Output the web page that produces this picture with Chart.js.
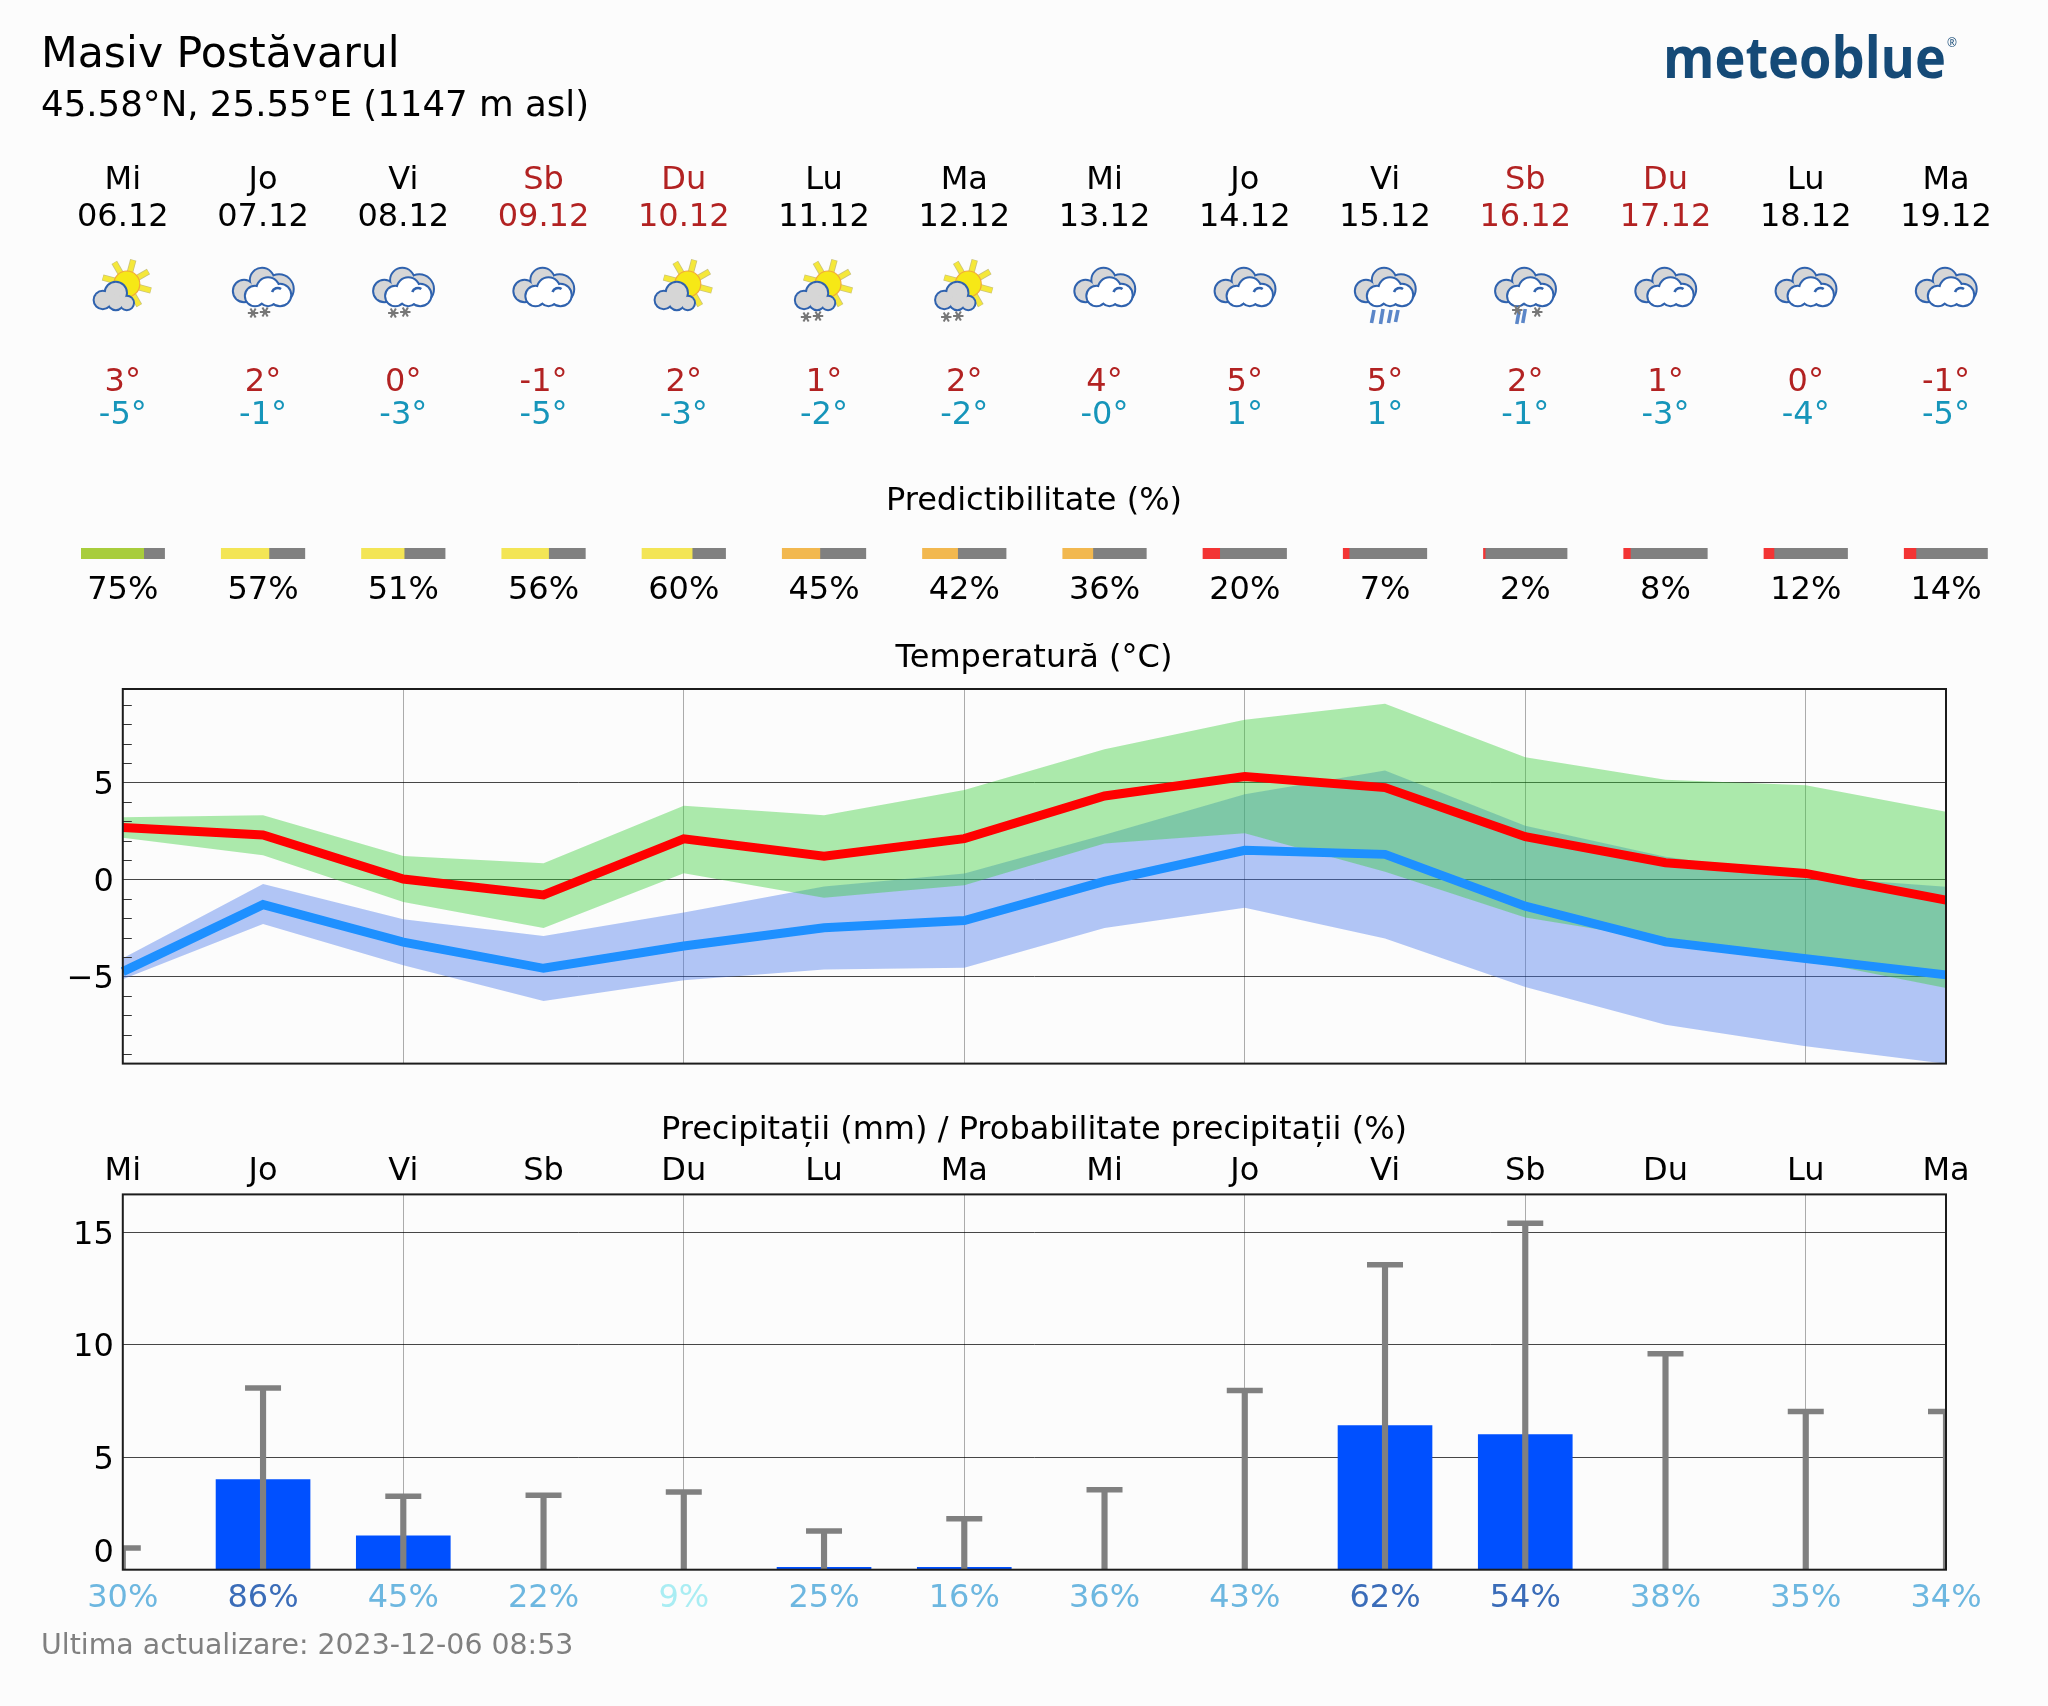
<!DOCTYPE html>
<html>
<head>
<meta charset="utf-8">
<title>Masiv Postăvarul</title>
<script src="https://cdn.jsdelivr.net/npm/chart.js@4"></script>
<style>
html, body { margin: 0; padding: 0; background: #fcfcfc; }
#page { position: relative; width: 2048px; height: 1706px; overflow: hidden; background: #fcfcfc; }
#page canvas { position: absolute; left: 0; }
#overlay { position: absolute; left: 0; top: 0; pointer-events: none; font-family: 'DejaVu Sans', sans-serif; }
</style>
</head>
<body>
<div id="page">
  <canvas id="predictChart" width="2048" height="30" style="top:540px"></canvas>
  <canvas id="tempChart" width="2048" height="420" style="top:660px"></canvas>
  <canvas id="rainChart" width="2048" height="470" style="top:1150px"></canvas>
  <svg id="overlay" width="2048" height="1706" xmlns="http://www.w3.org/2000/svg"></svg>
</div>
<script>
// date
const days = ['Mi', 'Jo', 'Vi', 'Sb', 'Du', 'Lu', 'Ma', 'Mi', 'Jo', 'Vi', 'Sb', 'Du', 'Lu', 'Ma'];
const dates = ['06.12', '07.12', '08.12', '09.12', '10.12', '11.12', '12.12', '13.12', '14.12', '15.12', '16.12', '17.12', '18.12', '19.12'];
const icons = ['sun', 'snow', 'snow', 'cloud', 'sun', 'sunsnow', 'sunsnow', 'cloud', 'cloud', 'rain', 'mix', 'cloud', 'cloud', 'cloud'];
const maxLabels = ['3°', '2°', '0°', '-1°', '2°', '1°', '2°', '4°', '5°', '5°', '2°', '1°', '0°', '-1°'];
const minLabels = ['-5°', '-1°', '-3°', '-5°', '-3°', '-2°', '-2°', '-0°', '1°', '1°', '-1°', '-3°', '-4°', '-5°'];
const predictability = [75, 57, 51, 56, 60, 45, 42, 36, 20, 7, 2, 8, 12, 14];

const tempMax = [2.68, 2.29, 0.02, -0.8, 2.09, 1.2, 2.1, 4.3, 5.3, 4.73, 2.2, 0.86, 0.31, -1.07];
const tempMaxHigh = [3.2, 3.3, 1.2, 0.83, 3.8, 3.3, 4.6, 6.7, 8.23, 9.05, 6.3, 5.13, 4.85, 3.48];
const tempMaxLow = [2.15, 1.24, -1.16, -2.5, 0.32, -0.95, -0.3, 1.85, 2.38, 0.4, -1.96, -3.13, -4.16, -5.6];
const tempMin = [-4.75, -1.3, -3.23, -4.58, -3.43, -2.49, -2.12, -0.1, 1.5, 1.29, -1.38, -3.22, -4.08, -4.92];
const tempMinHigh = [-4.06, -0.24, -2.05, -2.92, -1.7, -0.36, 0.3, 2.3, 4.39, 5.61, 2.77, 1.17, 0.15, -0.38];
const tempMinLow = [-5.15, -2.3, -4.42, -6.27, -5.19, -4.64, -4.55, -2.5, -1.46, -3.05, -5.54, -7.49, -8.6, -9.5];
const tempTicks = [-5, 0, 5];

const rain = [0, 4.0, 1.5, 0, 0, 0.1, 0.1, 0, 0, 6.4, 6.0, 0, 0, 0];
const rainHigh = [0.96, 8.08, 3.26, 3.31, 3.45, 1.72, 2.27, 3.55, 7.97, 13.55, 15.4, 9.6, 7.03, 7.03];
const rainProb = [30, 86, 45, 22, 9, 25, 16, 36, 43, 62, 54, 38, 35, 34];
const rainTicks = [5, 10, 15];

// geometrie
const plotLeft = 122.8;
const plotRight = 1946;
const dayStep = (plotRight - plotLeft) / 13;
const barHalf = 0.298;
const font = "'DejaVu Sans', sans-serif";
const labelSize = 32;
const zeroLabelAt = 0.85; // eticheta 0 sta mai sus de axa in original

const evenGrid = ctx => (ctx.index % 2 === 0 && ctx.index > 0) ? 'rgba(0,0,0,0.32)' : 'rgba(0,0,0,0)';
const rightEdge = 2048 - plotRight;

function predictColor(p) {
    if (p >= 70) return '#a8cd3c';
    if (p >= 50) return '#f3e555';
    if (p >= 30) return '#f2b84f';
    return '#f33434';
}

function rainProbColor(p) {
    if (p >= 50) return '#3a6cb8';
    if (p >= 15) return '#6db7e0';
    return '#a9edf3';
}

// rama graficului
const framePlugin = {
    id: 'frame',
    afterDraw(chart) {
        const a = chart.chartArea;
        const c = chart.ctx;
        c.save();
        c.strokeStyle = '#1c1c1c';
        c.lineWidth = 2;
        c.strokeRect(a.left, a.top, a.right - a.left, a.bottom - a.top);
        c.restore();
    }
};

// etichetele axei y stau cu 3px mai jos decat centrul din Chart.js
const lowerLabels = {
    id: 'lowerLabels',
    beforeDraw(chart) {
        chart.scales.y.getLabelItems().forEach(item => { item.options.translation[1] += 3; });
    }
};

// liniutele mici din interior, stanga
const minorTicks = {
    id: 'minorTicks',
    afterDraw(chart) {
        const y = chart.scales.y;
        const c = chart.ctx;
        c.save();
        c.strokeStyle = '#333';
        c.lineWidth = 1;
        for (let v = -9; v <= 9; v++) {
            if (v % 5 === 0) continue;
            const py = Math.round(y.getPixelForValue(v)) + 0.5;
            c.beginPath();
            c.moveTo(chart.chartArea.left, py);
            c.lineTo(chart.chartArea.left + 9, py);
            c.stroke();
        }
        c.restore();
    }
};

Chart.defaults.animation = false;
Chart.defaults.responsive = false;
Chart.defaults.font.family = font;
Chart.defaults.plugins.legend.display = false;
Chart.defaults.plugins.tooltip.enabled = false;

function band(data, fill, color) {
    return { data: data, fill: fill, backgroundColor: color, borderWidth: 0, pointRadius: 0, tension: 0 };
}

function mainLine(data, color) {
    return { data: data, fill: false, borderColor: color, borderWidth: 9, pointRadius: 0, tension: 0, borderJoinStyle: 'miter' };
}

// fara spatiu suplimentar pentru etichete, altfel zona graficului se micsoreaza
function fitLeftAxis(s) {
    s.width = plotLeft;
    s.paddingTop = 0;
    s.paddingBottom = 0;
}

// predictibilitate: bare orizontale pe aceeasi scara a zilelor
const predictDatasets = [];
predictability.forEach((p, i) => {
    const start = i - barHalf;
    const end = i + barHalf;
    const split = start + (end - start) * p / 100;
    predictDatasets.push({ data: [[start, split]], backgroundColor: predictColor(p) });
    predictDatasets.push({ data: [[split, end]], backgroundColor: '#808080' });
});

new Chart(document.getElementById('predictChart'), {
    type: 'bar',
    data: { labels: ['Predictibilitate'], datasets: predictDatasets },
    options: {
        indexAxis: 'y',
        layout: { padding: { left: plotLeft - barHalf * dayStep, right: rightEdge - barHalf * dayStep, top: 8, bottom: 11 } },
        datasets: { bar: { grouped: false, barPercentage: 1, categoryPercentage: 1 } },
        scales: {
            x: { type: 'linear', min: -barHalf, max: 13 + barHalf, display: false },
            y: { display: false }
        }
    }
});

new Chart(document.getElementById('tempChart'), {
    type: 'line',
    data: {
        labels: days,
        datasets: [
            mainLine(tempMax, '#ff0000'),
            mainLine(tempMin, '#1e90ff'),
            band(tempMaxHigh, '+1', 'rgba(50,205,50,0.4)'),
            band(tempMaxLow, false, 'rgba(0,0,0,0)'),
            band(tempMinHigh, '+1', 'rgba(65,115,235,0.4)'),
            band(tempMinLow, false, 'rgba(0,0,0,0)')
        ]
    },
    plugins: [lowerLabels, minorTicks, framePlugin],
    options: {
        layout: { padding: { top: 29, bottom: 16.4, right: rightEdge } },
        scales: {
            x: {
                offset: false,
                afterFit(s) { s.height = 0; },
                border: { display: false },
                grid: { color: evenGrid, lineWidth: 1, drawTicks: false, offset: false },
                ticks: { display: false, autoSkip: false }
            },
            y: {
                min: -9.49,
                max: 9.81,
                afterBuildTicks(s) { s.ticks = tempTicks.map(v => ({ value: v })); },
                afterFit: fitLeftAxis,
                border: { display: false },
                grid: { color: 'rgba(0,0,0,0.72)', lineWidth: 1, drawTicks: false },
                ticks: {
                    padding: 9,
                    color: '#000',
                    font: { size: labelSize },
                    callback: v => String(v).replace('-', '\u2212')
                }
            }
        }
    }
});

new Chart(document.getElementById('rainChart'), {
    type: 'bar',
    data: {
        labels: days,
        datasets: [
            {
                type: 'line',
                data: rainHigh,
                showLine: false,
                pointStyle: 'line',
                pointRadius: 18,
                pointBorderWidth: 5.5,
                pointBorderColor: '#808080',
                clip: 0,
                order: 0
            },
            { data: rainHigh.map(v => [0, v]), backgroundColor: '#808080', barThickness: 5.5, grouped: false, order: 1 },
            { data: rain, backgroundColor: '#0050ff', barThickness: 94, grouped: false, order: 2 }
        ]
    },
    plugins: [lowerLabels, framePlugin],
    options: {
        layout: { padding: { right: rightEdge } },
        scales: {
            x: {
                position: 'top',
                offset: false,
                afterFit(s) { s.height = 44.4; },
                border: { display: false },
                grid: { color: evenGrid, lineWidth: 1, drawTicks: false, offset: false },
                ticks: { autoSkip: false, maxRotation: 0, padding: 4, color: '#000', font: { size: labelSize } }
            },
            x2: {
                axis: 'x',
                position: 'bottom',
                offset: false,
                labels: rainProb.map(p => p + '%'),
                afterFit(s) { s.height = 50.3; },
                border: { display: false },
                grid: { display: false, drawTicks: false, offset: false },
                ticks: {
                    autoSkip: false,
                    maxRotation: 0,
                    padding: 10,
                    color: ctx => rainProbColor(rainProb[ctx.index]),
                    font: { size: labelSize }
                }
            },
            y: {
                min: 0,
                max: 16.68,
                afterBuildTicks(s) { s.ticks = [zeroLabelAt, ...rainTicks].map(v => ({ value: v })); },
                afterFit: fitLeftAxis,
                border: { display: false },
                grid: {
                    color: ctx => ctx.tick && ctx.tick.value === zeroLabelAt ? 'rgba(0,0,0,0)' : 'rgba(0,0,0,0.72)',
                    lineWidth: 1,
                    drawTicks: false
                },
                ticks: {
                    padding: 9,
                    color: '#000',
                    font: { size: labelSize },
                    callback: v => v === zeroLabelAt ? '0' : String(v)
                }
            }
        }
    }
});

// textele si pictogramele de deasupra
const svg = document.getElementById('overlay');
const NS = 'http://www.w3.org/2000/svg';
const dayX = i => plotLeft + i * dayStep;
const stroke = '#2f62ae';

function add(parent, tag, attrs, text) {
    const el = document.createElementNS(NS, tag);
    for (const k in attrs) el.setAttribute(k, attrs[k]);
    if (text !== undefined) el.textContent = text;
    parent.appendChild(el);
    return el;
}

function label(x, y, text, size, color, anchor) {
    return add(svg, 'text', { x: x, y: y, 'font-size': size, fill: color || '#000', 'text-anchor': anchor || 'middle' }, text);
}

function puffs(g, list, fill) {
    list.forEach(p => add(g, 'circle', { cx: p[0], cy: p[1], r: p[2], fill: fill, stroke: stroke, 'stroke-width': 3.4 }));
    list.forEach(p => add(g, 'circle', { cx: p[0], cy: p[1], r: p[2] - 0.3, fill: fill }));
}

function flake(g, x, y) {
    [0, 60, 120].forEach(a => {
        const dx = 5.2 * Math.cos(a * Math.PI / 180);
        const dy = 5.2 * Math.sin(a * Math.PI / 180);
        add(g, 'line', { x1: x - dx, y1: y - dy, x2: x + dx, y2: y + dy, stroke: '#777', 'stroke-width': 2 });
    });
    add(g, 'circle', { cx: x, cy: y, r: 2.2, fill: '#777' });
}

function drop(g, x, y1, y2) {
    add(g, 'line', { x1: x, y1: y1, x2: x - 2.5, y2: y2, stroke: '#5b86c8', 'stroke-width': 3.6 });
}

function bigCloud(g) {
    puffs(g, [[-19, 3, 10.5], [-1, -8, 11.5], [16, 1, 14]], '#d6d6d6');
    puffs(g, [[-8, 8, 9.5], [5, 1, 11], [5, 9, 8.5], [17, 7, 10.5]], '#ffffff');
    add(g, 'path', { d: 'M9 4 a6 6 0 0 1 9 -3', fill: 'none', stroke: stroke, 'stroke-width': 2.6 });
}

function sunCloud(g) {
    for (let a = -165; a <= 60; a += 45) {
        const c = Math.cos(a * Math.PI / 180);
        const s = Math.sin(a * Math.PI / 180);
        add(g, 'line', { x1: 4 + 12 * c, y1: -4 + 12 * s, x2: 4 + 25 * c, y2: -4 + 25 * s, stroke: '#c9c27a', 'stroke-width': 6.4 });
        add(g, 'line', { x1: 4 + 12 * c, y1: -4 + 12 * s, x2: 4 + 24.5 * c, y2: -4 + 24.5 * s, stroke: '#f5e83a', 'stroke-width': 4.8 });
    }
    add(g, 'circle', { cx: 4, cy: -4, r: 13, fill: '#f6e816', stroke: '#f2a93a', 'stroke-width': 1.2 });
    puffs(g, [[-20, 12, 8.5], [-7, 5, 10.5], [-7, 14, 7.5], [4, 15, 6.5]], '#d6d6d6');
}

function drawIcon(kind, cx, cy) {
    const g = add(svg, 'g', { transform: 'translate(' + cx + ',' + cy + ')' });
    if (kind === 'sun' || kind === 'sunsnow') {
        sunCloud(g);
        if (kind === 'sunsnow') { flake(g, -18, 29); flake(g, -6, 28); }
        return;
    }
    if (kind === 'rain') {
        drop(g, -11, 22, 35); drop(g, -2, 21, 36); drop(g, 6, 22, 35); drop(g, 13, 22, 34);
    }
    if (kind === 'mix') {
        drop(g, 0, 21, 35); drop(g, -6, 22, 36);
    }
    bigCloud(g);
    if (kind === 'snow') { flake(g, -10, 25); flake(g, 2, 24); }
    if (kind === 'mix') { flake(g, -8, 22); flake(g, 12, 24); }
}

label(41, 67, 'Masiv Postăvarul', 42.6, '#000', 'start');
label(41, 116, '45.58°N, 25.55°E (1147 m asl)', 35.6, '#000', 'start');
add(svg, 'text', { x: 1663, y: 78, 'font-size': 58, 'font-weight': 700, 'font-family': "'Open Sans', sans-serif", fill: '#154a77', textLength: 283, lengthAdjust: 'spacingAndGlyphs' }, 'meteoblue');
add(svg, 'text', { x: 1947, y: 47, 'font-size': 12, 'font-family': "'Open Sans', sans-serif", fill: '#154a77' }, '®');

days.forEach((d, i) => {
    const x = dayX(i);
    const dayColor = (d === 'Sb' || d === 'Du') ? '#b22222' : '#000';
    label(x, 189, d, labelSize, dayColor);
    label(x, 226, dates[i], labelSize, dayColor);
    drawIcon(icons[i], x, 288);
    label(x, 391, maxLabels[i], labelSize, '#b22222');
    label(x, 424, minLabels[i], labelSize, '#1695ba');
    label(x, 599, predictability[i] + '%', labelSize);
});

const midX = (plotLeft + plotRight) / 2 - 0.4;
label(midX, 510, 'Predictibilitate (%)', labelSize);
label(midX, 667, 'Temperatură (°C)', labelSize);
label(midX, 1139, 'Precipitații (mm) / Probabilitate precipitații (%)', labelSize);
label(41, 1654, 'Ultima actualizare: 2023-12-06 08:53', 28.4, '#808080', 'start');
</script>
</body>
</html>
